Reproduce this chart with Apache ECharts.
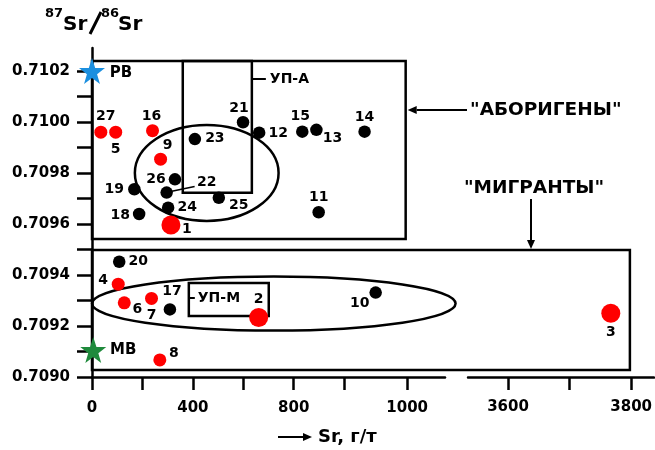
<!DOCTYPE html>
<html>
<head>
<meta charset="utf-8">
<script src="https://cdn.jsdelivr.net/npm/echarts@6/dist/echarts.min.js"></script>
<style>
  html, body { margin: 0; padding: 0; background: #fff; }
  #chart { width: 655px; height: 450px; }
</style>
</head>
<body>
<div id="chart"></div>
<script>
// samples: Sr (г/т) vs 87Sr/86Sr
const blackIds = ['21', '12', '15', '13', '14', '23', '26', '22', '19', '24', '25', '18', '11', '20', '17', '10'];
const blackSr = [599, 663, 834, 890, 1081, 408, 329, 296, 168, 302, 503, 187, 899, 108, 309, 1125];
const blackRatio = [0.709999, 0.709958, 0.709962, 0.709969, 0.709962, 0.709933, 0.709775, 0.709723,
  0.709736, 0.709664, 0.709703, 0.709639, 0.709646, 0.709452, 0.709265, 0.709331];

const redIds = ['27', '5', '16', '9', '4', '6', '7', '8'];
const redSr = [35, 94, 240, 272, 104, 128, 236, 269];
const redRatio = [0.70996, 0.70996, 0.709966, 0.709854, 0.709364, 0.709291, 0.709308, 0.709067];

const bigRedIds = ['1', '2'];
const bigRedSr = [313, 661];
const bigRedRatio = [0.709596, 0.709233];

// beyond the axis break
const farIds = ['3'];
const farSr = [3767];
const farRatio = [0.70925];

// reference waters
const refIds = ['РВ', 'МВ'];
const refSr = [0, 5];
const refRatio = [0.7102, 0.709106];
const refColors = ['#1b8fdf', '#1f8a3c'];

const yTicks = [0.7090, 0.7091, 0.7092, 0.7093, 0.7094, 0.7095, 0.7096, 0.7097, 0.7098, 0.7099, 0.7100, 0.7101, 0.7102];
const yLabels = [0.7090, 0.7092, 0.7094, 0.7096, 0.7098, 0.7100, 0.7102];
const xTicksLeft = [0, 200, 400, 600, 800, 1000, 1250];
const xLabelsLeft = [0, 400, 800, 1250];
const xLabelTextLeft = { 0: '0', 400: '400', 800: '800', 1250: '1000' };
const xTicksRight = [3600, 3700, 3800];
const xLabelsRight = [3600, 3800];

// where each number sits relative to its dot (px)
const labelOffset = {
  '27': [5, -16], '5': [0, 17], '16': [-1, -14], '21': [-4, -14], '12': [19, 1], '15': [-2, -15],
  '13': [16, 8], '14': [0, -14], '23': [20, -1], '9': [7, -14], '26': [-19, 0], '22': [40, -10],
  '19': [-20, 0], '24': [19, 0], '25': [20, 8], '18': [-19, 1], '1': [16, 4], '11': [0, -15],
  '20': [19, 0], '4': [-15, -4], '6': [13, 7], '7': [0, 17], '17': [2, -18], '2': [0, -18],
  '10': [-16, 11], '8': [14, -7], '3': [0, 19], 'РВ': [29, 2], 'МВ': [30, 0]
};

const FONT = 'DejaVu Sans';
const STAR = 'path://M50,0 L61.8,35.1 L98.1,35.1 L68.8,56.8 L79.4,91 L50,70 L20.6,91 L31.2,56.8 L1.9,35.1 L38.2,35.1 Z';

function pts(ids, xs, ys, extra) {
  return ids.map((id, i) => Object.assign({
    name: id,
    value: [xs[i], ys[i]],
    label: { offset: labelOffset[id] }
  }, extra ? extra(i) : {}));
}

const pointLabel = {
  show: true,
  position: 'inside',
  formatter: p => p.name,
  color: '#000',
  fontFamily: FONT,
  fontWeight: 'bold',
  fontSize: 14
};

const chart = echarts.init(document.getElementById('chart'));

const yAxisBase = {
  type: 'value',
  min: 0.709,
  max: 0.71029,
  splitLine: { show: false }
};

chart.setOption({
  animation: false,
  grid: [
    { left: 92, top: 48, width: 353, height: 329 },
    { left: 468, top: 48, width: 187, height: 329 }
  ],
  xAxis: [
    {
      type: 'value', gridIndex: 0, min: 0, max: 1400,
      splitLine: { show: false },
      axisLine: { lineStyle: { color: '#000', width: 2.5 } },
      axisTick: { customValues: xTicksLeft, length: 13, lineStyle: { color: '#000', width: 2.5 } },
      axisLabel: {
        customValues: xLabelsLeft, formatter: v => xLabelTextLeft[v],
        color: '#000', fontFamily: FONT, fontWeight: 'bold', fontSize: 15, margin: 24
      }
    },
    {
      type: 'value', gridIndex: 1, min: 3535, max: 3837,
      splitLine: { show: false },
      axisLine: { lineStyle: { color: '#000', width: 2.5 } },
      axisTick: { customValues: xTicksRight, length: 13, lineStyle: { color: '#000', width: 2.5 } },
      axisLabel: {
        customValues: xLabelsRight, formatter: v => String(v),
        color: '#000', fontFamily: FONT, fontWeight: 'bold', fontSize: 15, margin: 23
      }
    }
  ],
  yAxis: [
    Object.assign({}, yAxisBase, {
      gridIndex: 0,
      axisLine: { lineStyle: { color: '#000', width: 2.5 } },
      axisTick: { customValues: yTicks, length: 15, lineStyle: { color: '#000', width: 2.5 } },
      axisLabel: {
        customValues: yLabels, formatter: v => v.toFixed(4),
        color: '#000', fontFamily: FONT, fontWeight: 'bold', fontSize: 15, margin: 22
      }
    }),
    Object.assign({}, yAxisBase, { gridIndex: 1, show: false })
  ],
  series: [
    {
      type: 'scatter', xAxisIndex: 0, yAxisIndex: 0, symbolSize: 12.5,
      itemStyle: { color: '#000', opacity: 1 }, label: pointLabel,
      data: pts(blackIds, blackSr, blackRatio)
    },
    {
      type: 'scatter', xAxisIndex: 0, yAxisIndex: 0, symbolSize: 13,
      itemStyle: { color: '#ff0000', opacity: 1 }, label: pointLabel,
      data: pts(redIds, redSr, redRatio)
    },
    {
      type: 'scatter', xAxisIndex: 0, yAxisIndex: 0, symbolSize: 19,
      itemStyle: { color: '#ff0000', opacity: 1 }, label: pointLabel,
      data: pts(bigRedIds, bigRedSr, bigRedRatio)
    },
    {
      type: 'scatter', xAxisIndex: 1, yAxisIndex: 1, symbolSize: 19,
      itemStyle: { color: '#ff0000', opacity: 1 }, label: pointLabel,
      data: pts(farIds, farSr, farRatio)
    },
    {
      type: 'scatter', xAxisIndex: 0, yAxisIndex: 0, symbol: STAR, symbolSize: 26,
      label: Object.assign({}, pointLabel, { fontSize: 15 }),
      data: pts(refIds, refSr, refRatio, i => ({ itemStyle: { color: refColors[i], opacity: 1 } })),
      z: 3
    }
  ]
});

// outlines drawn in data units, converted to pixels afterwards
const px = (g, x, y) => chart.convertToPixel({ gridIndex: g }, [x, y]);
const line = { stroke: '#000', lineWidth: 2.5, fill: null };

function rectFrom(a, b) {
  return {
    type: 'rect', z: 1, silent: true,
    shape: { x: a[0], y: a[1], width: b[0] - a[0], height: b[1] - a[1] },
    style: line
  };
}
function ellipseFrom(g, cx, cy, rx, ry) {
  const c = px(g, cx, cy);
  const e = px(g, cx + rx, cy + ry);
  return {
    type: 'ellipse', z: 1, silent: true,
    shape: { cx: c[0], cy: c[1], rx: e[0] - c[0], ry: c[1] - e[1] },
    style: line
  };
}
function arrow(x1, y1, x2, y2) {
  const ang = Math.atan2(y2 - y1, x2 - x1);
  const h = 9, w = 4;
  const bx = x2 - h * Math.cos(ang), by = y2 - h * Math.sin(ang);
  return [
    { type: 'line', silent: true, shape: { x1: x1, y1: y1, x2: bx, y2: by }, style: { stroke: '#000', lineWidth: 2 } },
    {
      type: 'polygon', silent: true,
      shape: { points: [[x2, y2], [bx - w * Math.sin(ang), by + w * Math.cos(ang)], [bx + w * Math.sin(ang), by - w * Math.cos(ang)]] },
      style: { fill: '#000' }
    }
  ];
}
function txt(x, y, text, size, align) {
  return {
    type: 'text', silent: true, x: x, y: y,
    style: {
      text: text, fill: '#000', font: 'bold ' + size + 'px "' + FONT + '"',
      align: align || 'left', verticalAlign: 'middle'
    }
  };
}

const upperTL = px(0, 0, 0.710239), upperBR = px(0, 1244, 0.709541);
const upaTL = px(0, 360, 0.710239), upaBR = px(0, 634, 0.709722);
const lowerTL = px(0, 0, 0.709498), lowerBR = px(1, 3798, 0.709027);
const upmTL = px(0, 384, 0.709369), upmBR = px(0, 701, 0.709239);
const p22 = px(0, 296, 0.709723);

const graphics = [
  rectFrom(upperTL, upperBR),
  rectFrom(upaTL, upaBR),
  rectFrom(lowerTL, lowerBR),
  rectFrom(upmTL, upmBR),
  ellipseFrom(0, 455, 0.7098, 285, 0.000188),
  ellipseFrom(0, 721, 0.709288, 721, 0.000106),
  // leader for sample 22
  { type: 'line', silent: true, shape: { x1: p22[0] + 4, y1: p22[1] - 1, x2: p22[0] + 28, y2: p22[1] - 6 }, style: { stroke: '#000', lineWidth: 1.5 } },
  // УП-А tag
  { type: 'line', silent: true, shape: { x1: upaBR[0], y1: 79, x2: upaBR[0] + 14, y2: 79 }, style: { stroke: '#000', lineWidth: 2 } },
  txt(upaBR[0] + 18, 79, 'УП-А', 14),
  // УП-М tag
  { type: 'line', silent: true, shape: { x1: upmTL[0], y1: 298, x2: upmTL[0] + 6, y2: 298 }, style: { stroke: '#000', lineWidth: 2 } },
  txt(upmTL[0] + 9, 298, 'УП-М', 14),
  // group captions
  ...arrow(467, 110, upperBR[0] + 2, 110),
  txt(470, 110, '"АБОРИГЕНЫ"', 18.5),
  ...arrow(531, 199, 531, lowerTL[1] - 1),
  txt(534, 188, '"МИГРАНТЫ"', 18.5, 'center'),
  // axis titles
  txt(45, 14, '87', 13),
  txt(63, 25, 'Sr', 20),
  { type: 'line', silent: true, shape: { x1: 101, y1: 12, x2: 90, y2: 34 }, style: { stroke: '#000', lineWidth: 3 } },
  txt(101, 14, '86', 13),
  txt(118, 25, 'Sr', 20),
  ...arrow(278, 437, 312, 437),
  txt(318, 437, 'Sr, г/т', 18)
];

chart.setOption({ graphic: graphics });
</script>
</body>
</html>
